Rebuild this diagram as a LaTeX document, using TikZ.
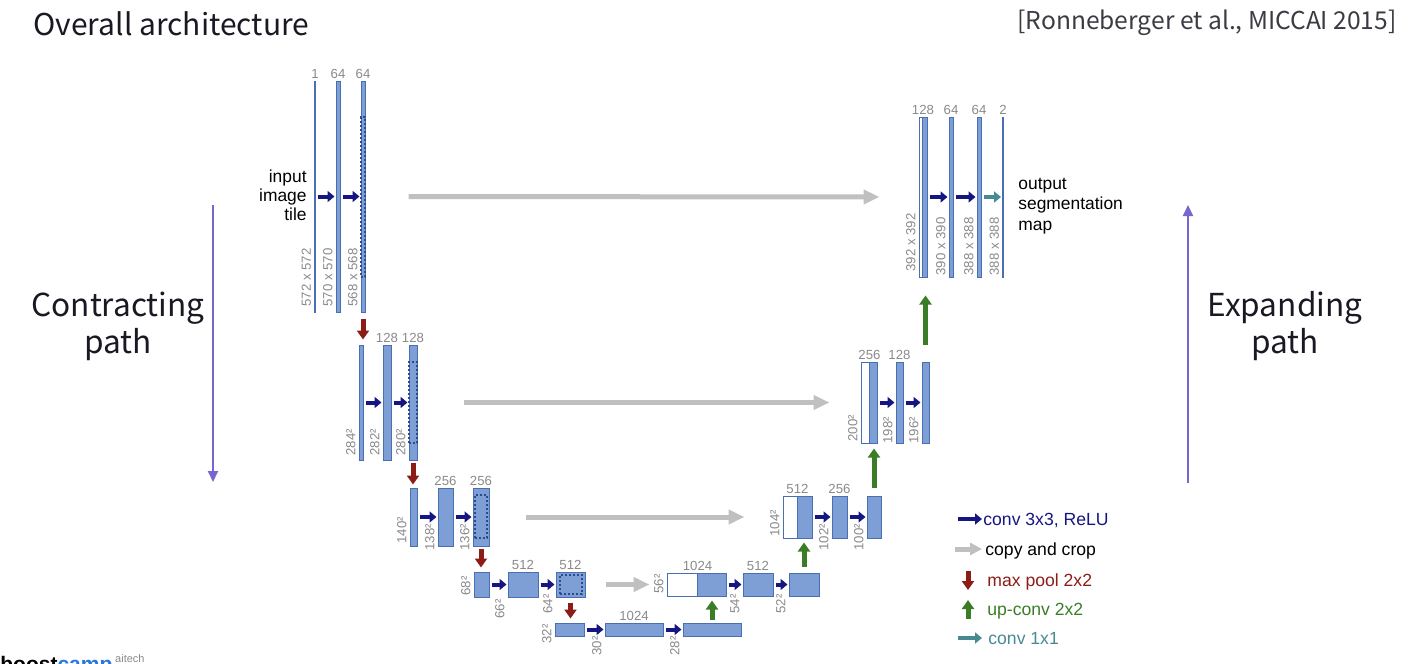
\documentclass[tikz,border=0pt]{standalone}
\usepackage{fontspec}
\setmainfont{Liberation Sans}
\newfontfamily\slidefont{Noto Sans CJK KR}
\usetikzlibrary{arrows.meta,positioning,fit}

\definecolor{barfill}{RGB}{126,158,214}
\definecolor{barline}{RGB}{74,110,178}
\definecolor{cropline}{RGB}{45,75,140}
\definecolor{lblgray}{RGB}{138,138,138}
\definecolor{convblue}{RGB}{22,22,128}
\definecolor{copygray}{RGB}{192,192,192}
\definecolor{poolred}{RGB}{140,28,22}
\definecolor{upgreen}{RGB}{58,125,38}
\definecolor{oneteal}{RGB}{72,138,145}
\definecolor{pathpurple}{RGB}{118,102,208}
\definecolor{titleblack}{RGB}{25,25,35}
\definecolor{campblue}{RGB}{40,120,220}

\tikzset{
  blk/.style={draw=barline, fill=barfill, line width=0.5pt, inner sep=0pt, minimum size=0pt},
  wblk/.style={blk, fill=white},
  cropbox/.style={draw=cropline, dashed, dash pattern=on 1.2pt off 0.8pt, line width=0.6pt, inner sep=0pt, minimum size=0pt},
  chlbl/.style={text=lblgray, font=\fontsize{6.6}{7}\selectfont, inner sep=0.6pt},
  szlbl/.style={chlbl, rotate=90, anchor=south west},
  convarrow/.style={draw=convblue, line width=2pt, -{Triangle[length=3.5pt,width=5.5pt]}},
  onearrow/.style={convarrow, draw=oneteal},
  copyarrow/.style={draw=copygray, line width=2.5pt, -{Triangle[length=8pt,width=7pt]}},
  poolarrow/.style={draw=poolred, line width=2.5pt, -{Triangle[length=4.5pt,width=6pt]}},
  uparrow/.style={poolarrow, draw=upgreen},
  patharrow/.style={draw=pathpurple, line width=1pt, -{Triangle[length=5.5pt,width=5pt]}},
  legtxt/.style={anchor=west, inner sep=0pt, text height=6.5pt, text depth=0pt, font=\fontsize{8.8}{10}\selectfont},
  bigtxt/.style={align=center, text=titleblack, font=\slidefont\fontsize{15.8}{18.5}\selectfont}
}

\begin{document}
\begin{tikzpicture}[x=0.5pt, y=-0.5pt]
  \useasboundingbox (0,0) rectangle (1420,664);
  \clip (0,0) rectangle (1420,664);

  % plain blocks: name/x1/y1/x2/y2/channels/size/label bottom
  \foreach \n/\xa/\ya/\xb/\yb/\ch/\sz/\lb in {
      a1/314.5/81/315.5/312/1/572 x 572/308, a2/336/81/340/312/64/570 x 570/308,
      a3/361/81/365/312/64/568 x 568/308,
      b1/359/345/363/460//284²/457, b2/383/345/391/460/128/282²/457,
      b3/409/345/417/460/128/280²/457,
      c1/410/488/417/546//140²/545, c2/438/488/453/546/256/138²/552,
      c3/473/488/489/546/256/136²/552,
      d1/474/572/489/597//68²/597, d2/508/572/538/597/512/66²/620,
      d3/556/572/585/597/512/64²/615,
      e1/555/623/584/636//32²/645, e2/605/623/663/636/1024/30²/657,
      e3/683/623/741/636//28²/657,
      f2/743/573/773/596/512/54²/615, f3/789/573/819/596//52²/615,
      g2/832/496/847/538/256/102²/552, g3/867/496/881/538//100²/552,
      h2/896/362/903/443/128/198²/445, h3/922/362/929/443//196²/445,
      k2/949/117/953/277/64/390 x 390/277, k3/977/117/981/277/64/388 x 388/277,
      k4/1002.5/117/1003.5/277/2/388 x 388/277} {
    \node[blk, fit={(\xa,\ya) (\xb,\yb)}] (\n) {};
    \node[chlbl, above=0pt of \n] (\n-ch) {\ch};
    \node[szlbl] (\n-sz) at (\xa-2,\lb) {\sz};
  }

  % concatenated blocks: name/x1/xm/x2/y1/y2/channels/size/label bottom
  \foreach \n/\xa/\xm/\xb/\ya/\yb/\ch/\sz/\lb in {
      f1/667/697/726/573/596/1024/56²/595, g1/783/797/812/496/538/512/104²/538,
      h1/861/869/877/362/443/256/200²/443, k1/919/922.5/927/117/277/128/392 x 392/273} {
    \node[wblk, fit={(\xa,\ya) (\xm,\yb)}] (\n w) {};
    \node[blk, fit={(\xm,\ya) (\xb,\yb)}] (\n) {};
    \node[chlbl, above=0pt of \n w.north east] (\n-ch) {\ch};
    \node[szlbl] (\n-sz) at (\xa-2,\lb) {\sz};
  }

  % cropped parts
  \node[cropbox, fit={(361,117) (365,277)}] (a3c) {};
  \node[cropbox, fit={(409,362) (417,443)}] (b3c) {};
  \node[cropbox, fit={(475,495) (487,538)}] (c3c) {};
  \node[cropbox, fit={(560,575) (582,594)}] (d3c) {};

  % conv 3x3
  \foreach \s/\t in {a1/a2,a2/a3,b1/b2,b2/b3,c1/c2,c2/c3,d1/d2,d2/d3,e1/e2,e2/e3,
                     f1/f2,f2/f3,g1/g2,g2/g3,h1/h2,h2/h3,k1/k2,k2/k3}
    \draw[convarrow, shorten <=1pt, shorten >=0.5pt] (\s.east) -- (\t.west);
  \draw[onearrow, shorten <=1pt, shorten >=0.5pt] (k3.east) -- (k4.west);

  % copy and crop
  \draw[copyarrow, shorten <=21.5pt, shorten >=19.5pt] (a3.east) -- (k1w.west);
  \draw[copyarrow, shorten <=23pt, shorten >=15.5pt] (b3.east) -- (h1w.west);
  \draw[copyarrow, shorten <=18pt, shorten >=19pt] (c3.east) -- (g1w.west);
  \draw[copyarrow, shorten <=10pt, shorten >=8.5pt] (d3.east) -- (f1w.west);

  % max pool
  \draw[poolarrow, shorten <=3pt, shorten >=2.5pt] (a3.south) -- (a3.south |- b1.north);
  \draw[poolarrow, shorten <=1pt, shorten >=1.5pt] (b3.south) -- (b3.south |- c1.north);
  \draw[poolarrow, shorten <=1pt, shorten >=2pt] (c3.south) -- (c3.south |- d1.north);
  \draw[poolarrow, shorten <=2.5pt, shorten >=2pt] (d3.south) -- (d3.south |- e1.north);

  % up-conv
  \draw[uparrow, shorten <=1.5pt, shorten >=2pt] (e3.north) -- (e3.north |- f1.south);
  \draw[uparrow, shorten <=3pt, shorten >=2pt] (f3.north) -- (f3.north |- g1.south);
  \draw[uparrow, shorten <=4pt, shorten >=2.5pt] (g3.north) -- (g3.north |- h1.south);
  \draw[uparrow, shorten <=8.5pt, shorten >=9pt] (h3.north) -- (h3.north |- k1.south);

  % in / out text
  \node[align=right, anchor=east, inner sep=0pt, font=\fontsize{8.7}{9.6}\selectfont] (inp) at (307,195) {input\\image\\tile};
  \node[align=left, anchor=west, inner sep=0pt, font=\fontsize{8.7}{10.4}\selectfont] (outp) at (1018,206) {output\\segmentation\\map};

  % legend
  \node[legtxt, text=convblue] (lg1) at (983,519) {conv 3x3, ReLU};
  \node[legtxt, text=black] (lg2) at (985,549) {copy and crop};
  \node[legtxt, text=poolred] (lg3) at (987,580) {max pool 2x2};
  \node[legtxt, text=upgreen] (lg4) at (987,609) {up-conv 2x2};
  \node[legtxt, text=oneteal] (lg5) at (988,638) {conv 1x1};
  \draw[convarrow] ([xshift=-12.5pt]lg1.west) -- ([xshift=-0.5pt]lg1.west);
  \draw[copyarrow, -{Triangle[length=6pt,width=6pt]}] ([xshift=-15pt]lg2.west) -- ([xshift=-1.5pt]lg2.west);
  \draw[poolarrow] ([shift={(-9.5pt,4.5pt)}]lg3.west) -- ([shift={(-9.5pt,-5pt)}]lg3.west);
  \draw[uparrow] ([shift={(-9.5pt,-5pt)}]lg4.west) -- ([shift={(-9.5pt,4.5pt)}]lg4.west);
  \draw[onearrow] ([xshift=-15pt]lg5.west) -- ([xshift=-3pt]lg5.west);

  % slide texts
  \node[anchor=base west, inner sep=0pt, text=titleblack, font=\slidefont\fontsize{15}{17}\selectfont] (title) at (33,35) {Overall architecture};
  \node[anchor=base east, inner sep=0pt, text=titleblack!85, font=\slidefont\fontsize{12.3}{14}\selectfont] (cite) at (1397,30) {[Ronneberger et al., MICCAI 2015]};
  \node[bigtxt] (contr) at (118,326) {Contracting\\path};
  \node[bigtxt] (expan) at (1285,326) {Expanding\\path};
  \coordinate (cs) at (213,205);
  \coordinate (ce) at (213,482);
  \coordinate (es) at (1188,483);
  \coordinate (ee) at (1188,205);
  \draw[patharrow] (cs) -- (ce);
  \draw[patharrow] (es) -- (ee);

  % logo, cut by the frame
  \node[anchor=base west, inner sep=0pt, font=\fontsize{10.5}{12}\selectfont\bfseries] (logo) at (0,671) {boost\textcolor{campblue}{camp}};
  \node[anchor=base west, inner sep=0pt, text=lblgray, font=\fontsize{5.5}{6}\selectfont] (logo2) at ([xshift=1pt,yshift=4.5pt]logo.base east) {aitech};
\end{tikzpicture}
\end{document}
